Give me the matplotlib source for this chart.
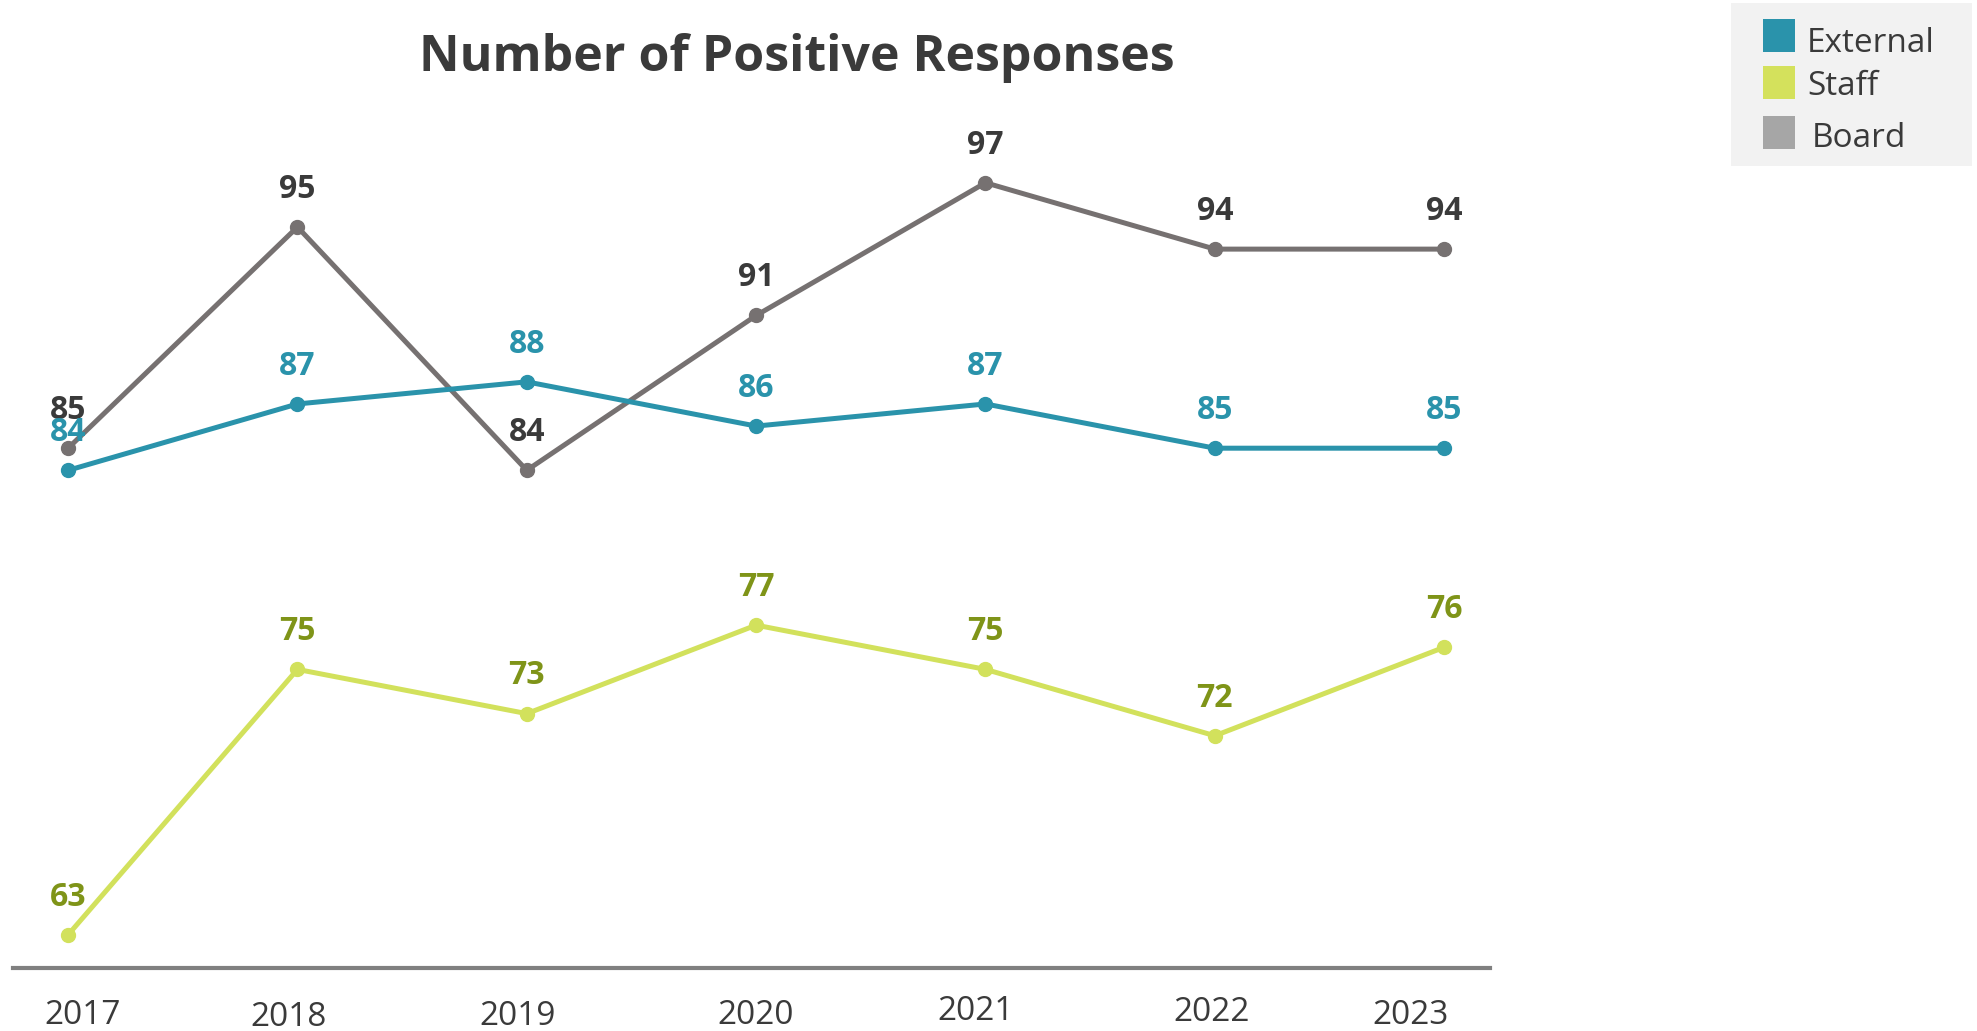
import matplotlib
matplotlib.use("Agg")
import matplotlib.pyplot as plt
from matplotlib.patches import Rectangle
from matplotlib.transforms import ScaledTranslation

years = ["2017", "2018", "2019", "2020", "2021", "2022", "2023"]
external = [84, 87, 88, 86, 87, 85, 85]
staff = [63, 75, 73, 77, 75, 72, 76]
board = [85, 95, 84, 91, 97, 94, 94]

series_names = ["External", "Staff", "Board"]
line_colors = ["#2A93AB", "#D2E15C", "#767171"]
label_colors = ["#2A93AB", "#7F9418", "#3A3A3A"]
legend_colors = ["#2A93AB", "#D4E15C", "#A6A6A6"]

plt.rcParams['font.family'] = ['Open Sans', 'DejaVu Sans']

fig = plt.figure(figsize=(19.77, 10.31), dpi=100)
ax = fig.add_axes([0.0066, 0.0611, 0.7471, 0.826])

x = list(range(len(years)))
for vals, lc, tc in zip([board, external, staff], [line_colors[2], line_colors[0], line_colors[1]],
                        [label_colors[2], label_colors[0], label_colors[1]]):
    ax.plot(x, vals, color=lc, linewidth=3.6, marker='o', markersize=10, solid_capstyle='round')
    for xi, v in zip(x, vals):
        ax.annotate(str(v), (xi, v), xytext=(0, 21), textcoords='offset points',
                    ha='center', va='baseline', fontsize=23, fontweight='bold', color=tc)

ax.set_xlim(-0.24, 6.2)
ax.set_ylim(61.5, 100)
ax.set_xticks(x)
ax.set_xticklabels(years, fontsize=24, color='#3A3A3A')
ax.tick_params(axis='x', length=0, pad=22)
# small irregular offsets of the category labels as in the reference (pixels)
lab_dx = [14, -9, -9, -1, -10, -3, -34]
lab_dy = [0, -2, -1, 0, 4, 3, 0]
for lab, dx, dy in zip(ax.get_xticklabels(), lab_dx, lab_dy):
    lab.set_transform(lab.get_transform() + ScaledTranslation(dx / 100, dy / 100, fig.dpi_scale_trans))
ax.set_yticks([])
for s in ['top', 'right', 'left']:
    ax.spines[s].set_visible(False)
ax.spines['bottom'].set_color('#808080')
ax.spines['bottom'].set_linewidth(3)

fig.text(0.403, 1 - 71 / 1031, "Number of Positive Responses", ha='center', va='baseline',
         fontsize=36, fontweight='bold', color='#3A3A3A')

# legend
fig.patches.append(Rectangle((1731 / 1977, 1 - 166 / 1031), 241 / 1977, 163 / 1031,
                             transform=fig.transFigure, facecolor='#F2F2F2', edgecolor='none'))
patch_cy = [35.5, 82.5, 132.5]
text_base = [52, 95, 147]
text_x = [1807, 1807, 1812]
for name, c, cy, tb, tx in zip(series_names, legend_colors, patch_cy, text_base, text_x):
    fig.patches.append(Rectangle((1763 / 1977, 1 - (cy + 16) / 1031), 32 / 1977, 32 / 1031,
                                 transform=fig.transFigure, facecolor=c, edgecolor='none'))
    fig.text(tx / 1977, 1 - tb / 1031, name, ha='left', va='baseline', fontsize=24, color='#3A3A3A')

fig.savefig("out.png", dpi=100)
